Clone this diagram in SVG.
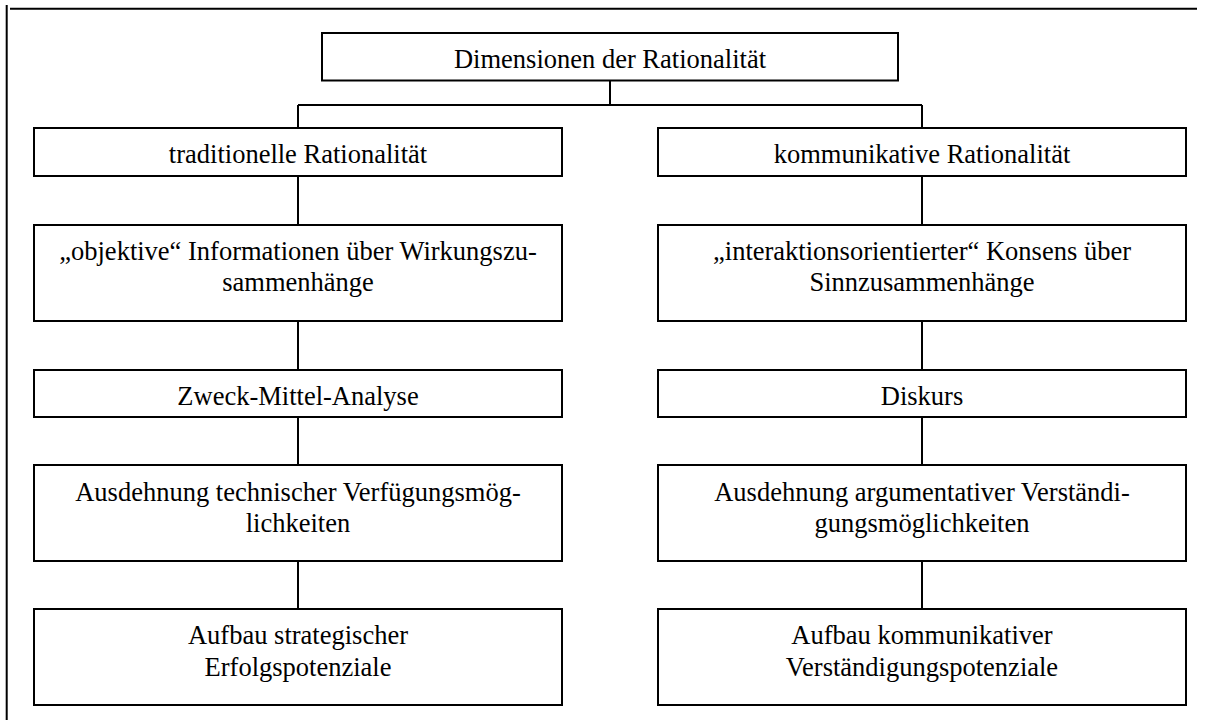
<svg xmlns="http://www.w3.org/2000/svg" width="1206" height="720" viewBox="0 0 1206 720">
<style>
.b{fill:#fff;stroke:#000;stroke-width:2}
.c{fill:none;stroke:#000;stroke-width:2}
text{font-family:'Liberation Serif','Times New Roman','DejaVu Serif',serif;font-size:26.5px;fill:#000;text-anchor:middle}
</style>
<rect width="1206" height="720" fill="#fff"/>
<g id="frame"><path class="c" d="M6.7 5V720M10 8.7H1197"/></g>
<g id="connectors">
<path class="c" d="M610 81V105M298 105H922M298 105V128M922 105V128"/>
<path class="c" d="M298 176V225M298 321V370M298 417V465M298 561V609"/>
<path class="c" d="M922 176V225M922 321V370M922 417V465M922 561V609"/>
</g>
<g font-family="Liberation Serif, Times New Roman, serif">
<g id="n0"><rect class="b" x="322" y="33" width="576" height="47.5"/><text x="610" y="68">Dimensionen der Rationalität</text></g>
<g id="l1"><rect class="b" x="34" y="128" width="528" height="48"/><text x="298" y="163">traditionelle Rationalität</text></g>
<g id="r1"><rect class="b" x="658" y="128" width="528" height="48"/><text x="922" y="163">kommunikative Rationalität</text></g>
<g id="l2"><rect class="b" x="34" y="225" width="528" height="96"/><text x="298" y="260">„objektive“ Informationen über Wirkungszu-</text><text x="298" y="291">sammenhänge</text></g>
<g id="r2"><rect class="b" x="658" y="225" width="528" height="96"/><text x="922" y="260">„interaktionsorientierter“ Konsens über</text><text x="922" y="291">Sinnzusammenhänge</text></g>
<g id="l3"><rect class="b" x="34" y="370" width="528" height="47"/><text x="298" y="405">Zweck-Mittel-Analyse</text></g>
<g id="r3"><rect class="b" x="658" y="370" width="528" height="47"/><text x="922" y="405">Diskurs</text></g>
<g id="l4"><rect class="b" x="34" y="465" width="528" height="96"/><text x="298" y="501">Ausdehnung technischer Verfügungsmög-</text><text x="298" y="532">lichkeiten</text></g>
<g id="r4"><rect class="b" x="658" y="465" width="528" height="96"/><text x="922" y="501">Ausdehnung argumentativer Verständi-</text><text x="922" y="532">gungsmöglichkeiten</text></g>
<g id="l5"><rect class="b" x="34" y="609" width="528" height="96"/><text x="298" y="644">Aufbau strategischer</text><text x="298" y="676">Erfolgspotenziale</text></g>
<g id="r5"><rect class="b" x="658" y="609" width="528" height="96"/><text x="922" y="644">Aufbau kommunikativer</text><text x="922" y="676">Verständigungspotenziale</text></g>
</g>
</svg>
